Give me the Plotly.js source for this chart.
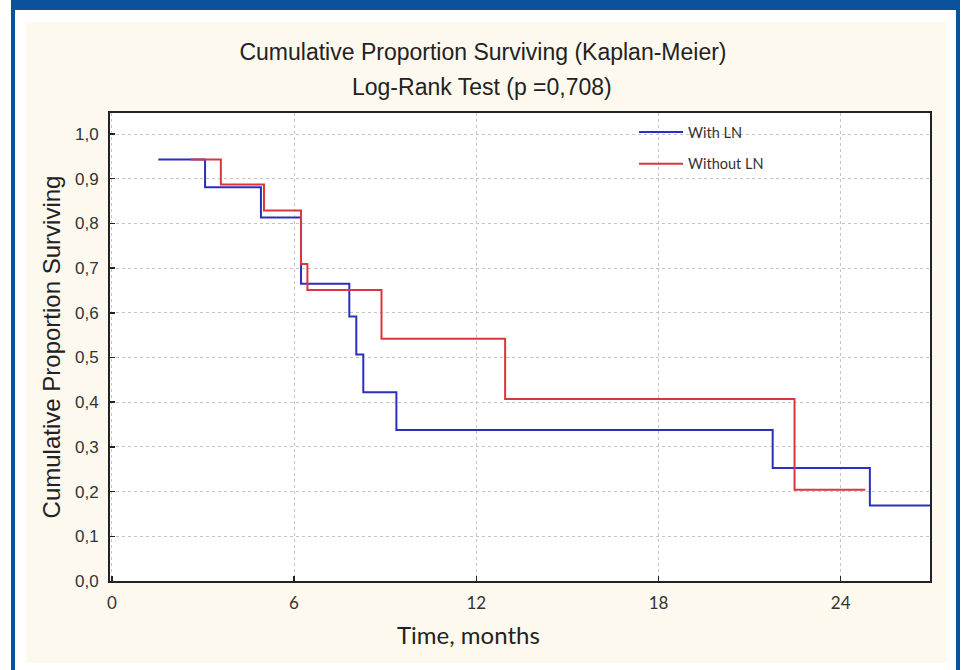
<!DOCTYPE html>
<html>
<head>
<meta charset="utf-8">
<script src="https://cdn.plot.ly/plotly-3.0.1.min.js"></script>
<style>
  html, body { margin: 0; padding: 0; background: #ffffff; }
  #page { position: relative; width: 965px; height: 670px; overflow: hidden; background: #ffffff; }
  .frame { position: absolute; background: #0b529c; }
  #panel { position: absolute; left: 26px; top: 22px; width: 921px; height: 641px; background: #fdf9ef; }
  #chart { position: absolute; left: 0; top: 0; width: 965px; height: 670px; }
</style>
</head>
<body>
<div id="page">
  <div class="frame" style="left:11px; top:0; width:949px; height:10px;"></div>
  <div class="frame" style="left:11px; top:0; width:4px; height:670px;"></div>
  <div class="frame" style="left:956px; top:0; width:4px; height:670px;"></div>
  <div id="panel"></div>
  <div id="chart"></div>
</div>
<script>
// Kaplan-Meier step curves: time (months) at which each level begins, and survival level
const withLnTime     = [1.53, 3.07, 4.91, 6.23, 7.82, 8.05, 8.28, 9.37, 21.76, 24.96, 26.94];
const withLnSurv     = [0.943, 0.881, 0.813, 0.665, 0.592, 0.507, 0.422, 0.338, 0.253, 0.169, 0.169];
const withoutLnTime  = [2.60, 3.59, 5.01, 6.23, 6.44, 8.88, 12.95, 22.48, 24.81];
const withoutLnSurv  = [0.943, 0.887, 0.829, 0.709, 0.651, 0.542, 0.407, 0.204, 0.204];

const seriesNames = ['With LN', 'Without LN'];
const chartTitle = 'Cumulative Proportion Surviving (Kaplan-Meier)';
const chartSubtitle = 'Log-Rank Test (p =0,708)';
const xTitle = 'Time, months';
const yTitle = 'Cumulative Proportion Surviving';

const sansFont = '"Liberation Sans", Arial, sans-serif';
const humanistFont = 'Lato, "Open Sans", sans-serif';

const traces = [
  {
    x: withLnTime, y: withLnSurv, name: seriesNames[0],
    type: 'scatter', mode: 'lines', line: { shape: 'hv', color: '#2b2fc0', width: 2 },
    legendgroup: 'a', hoverinfo: 'skip'
  },
  {
    x: withoutLnTime, y: withoutLnSurv, name: seriesNames[1],
    type: 'scatter', mode: 'lines', line: { shape: 'hv', color: '#d8383c', width: 2 },
    legendgroup: 'b', hoverinfo: 'skip'
  }
];

const layout = {
  width: 965, height: 670,
  margin: { l: 110, r: 35, t: 113, b: 89 },
  paper_bgcolor: 'rgba(0,0,0,0)',
  plot_bgcolor: '#ffffff',
  separators: ',.',
  showlegend: true,
  title: {
    text: chartTitle,
    font: { family: sansFont, size: 23, color: '#222' },
    xref: 'container', x: 483 / 965, xanchor: 'center',
    yref: 'container', y: 1 - 52 / 670, yanchor: 'middle'
  },
  annotations: [
    {
      text: chartSubtitle, showarrow: false,
      font: { family: sansFont, size: 23, color: '#222' },
      xref: 'paper', x: (482 - 110) / 820, xanchor: 'center',
      yref: 'paper', y: (581 - 87) / 468, yanchor: 'middle'
    },
    {
      // x-axis title, set left of the plot centre
      text: xTitle, showarrow: false,
      font: { family: humanistFont, size: 24, color: '#222' },
      xref: 'paper', x: (468 - 110) / 820, xanchor: 'center',
      yref: 'paper', y: (581 - 634) / 468, yanchor: 'middle'
    }
  ],
  xaxis: {
    range: [-0.06, 26.94], tick0: 0, dtick: 6,
    ticks: 'inside', ticklen: 5, tickwidth: 1.5, tickcolor: '#222',
    showline: true, linewidth: 2, linecolor: '#222', mirror: true,
    showgrid: true, gridcolor: '#c4c4c4', griddash: 'dot', gridwidth: 1,
    zeroline: false,
    tickfont: { family: humanistFont, size: 17, color: '#333' },
    ticklabelstandoff: 6
  },
  yaxis: {
    range: [0, 1.047], tick0: 0, dtick: 0.1, tickformat: '.1f',
    ticks: 'inside', ticklen: 5, tickwidth: 1.5, tickcolor: '#222',
    showline: true, linewidth: 2, linecolor: '#222', mirror: true,
    showgrid: true, gridcolor: '#c4c4c4', griddash: 'dot', gridwidth: 1,
    zeroline: false,
    tickfont: { family: sansFont, size: 17, color: '#333' },
    ticklabelstandoff: 6,
    title: { text: yTitle, font: { family: sansFont, size: 24, color: '#222' }, standoff: 8 }
  },
  // frame ticks on the top and right edges
  xaxis2: {
    overlaying: 'x', side: 'top', anchor: 'y',
    range: [-0.25, 11.03], tick0: 0, dtick: 1,
    ticks: 'inside', ticklen: 4, tickwidth: 1.5, tickcolor: '#222',
    showticklabels: false, showgrid: false, showline: false, zeroline: false
  },
  yaxis2: {
    overlaying: 'y', side: 'right', anchor: 'x',
    range: [0, 1.0108], tick0: 0, dtick: 0.1,
    ticks: 'inside', ticklen: 4, tickwidth: 1.5, tickcolor: '#222',
    showticklabels: false, showgrid: false, showline: false, zeroline: false
  },
  legend: {
    x: (634 - 110) / 820, xanchor: 'left',
    y: (581 - 116) / 468, yanchor: 'top',
    bgcolor: 'rgba(0,0,0,0)', borderwidth: 0,
    itemwidth: 44,
    tracegroupgap: 10,
    font: { family: humanistFont, size: 14.5, color: '#333' }
  }
};

Plotly.newPlot('chart', traces, layout, { displayModeBar: false, staticPlot: true });
</script>
</body>
</html>
